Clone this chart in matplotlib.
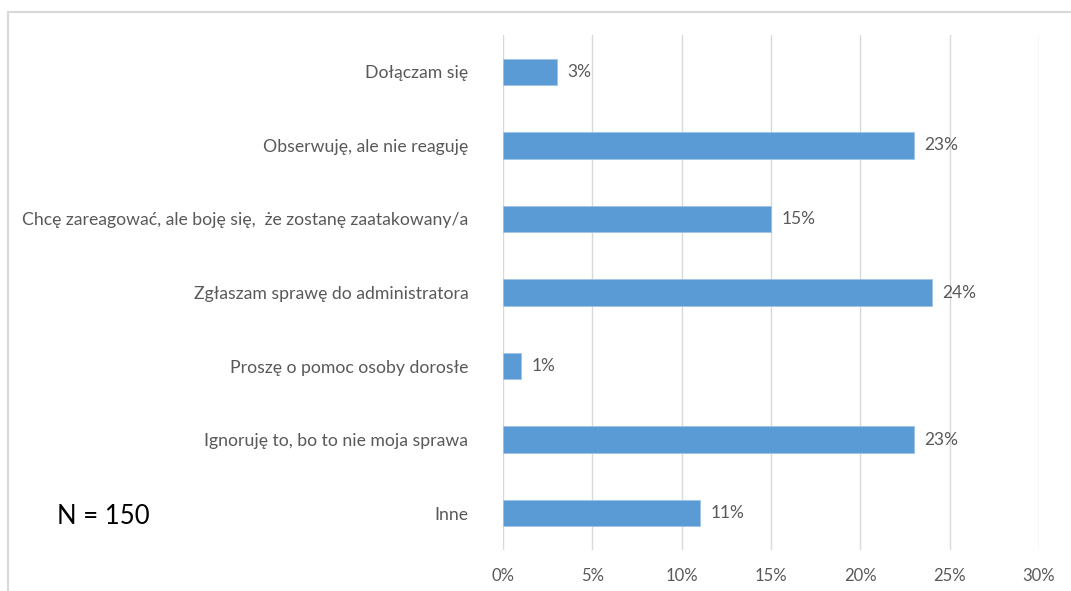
import matplotlib.pyplot as plt
from matplotlib.patches import Rectangle
from matplotlib.ticker import FuncFormatter, MultipleLocator

categories = [
    "Dołączam się",
    "Obserwuję, ale nie reaguję",
    "Chcę zareagować, ale boję się,  że zostanę zaatakowany/a",
    "Zgłaszam sprawę do administratora",
    "Proszę o pomoc osoby dorosłe",
    "Ignoruję to, bo to nie moja sprawa",
    "Inne",
]
values = [3, 23, 15, 24, 1, 23, 11]
note = "N = 150"

plt.rcParams["font.family"] = ["Lato", "DejaVu Sans"]
grey = "#595959"

fig = plt.figure(figsize=(10.71, 5.91), dpi=100)
ax = fig.add_axes([503 / 1071, 1 - 550 / 591, 536 / 1071, 515 / 591])

pos = list(range(len(categories)))
ax.barh(pos, values, height=0.36, color="#5B9BD5", edgecolor="#9DC3E6", linewidth=0.6, zorder=3)
for p, v in zip(pos, values):
    ax.text(v + 0.6, p, f"{v}%", va="center", ha="left", fontsize=12.5, color=grey)

ax.set_xlim(0, 30)
ax.set_ylim(len(categories) - 0.5, -0.5)
ax.xaxis.set_major_locator(MultipleLocator(5))
ax.xaxis.set_major_formatter(FuncFormatter(lambda x, _: f"{x:.0f}%"))
ax.set_yticks(pos)
ax.set_yticklabels(categories)
ax.tick_params(axis="y", length=0, pad=25, labelsize=12.7, labelcolor=grey)
ax.tick_params(axis="x", length=0, pad=13, labelsize=12, labelcolor=grey)
ax.grid(axis="x", color="#D9D9D9", linewidth=1, zorder=0)
for s in ax.spines.values():
    s.set_visible(False)

fig.text(57 / 1071, 1 - 517 / 591, note, fontsize=18.5, color="black", va="center", ha="left")

fig.patches.append(Rectangle((8 / 1071, -0.1), 1.2, 1 - 12 / 591 + 0.1, transform=fig.transFigure,
                             fill=False, edgecolor="#D9D9D9", linewidth=1.5, clip_on=False))

fig.savefig("out.png", dpi=100)
